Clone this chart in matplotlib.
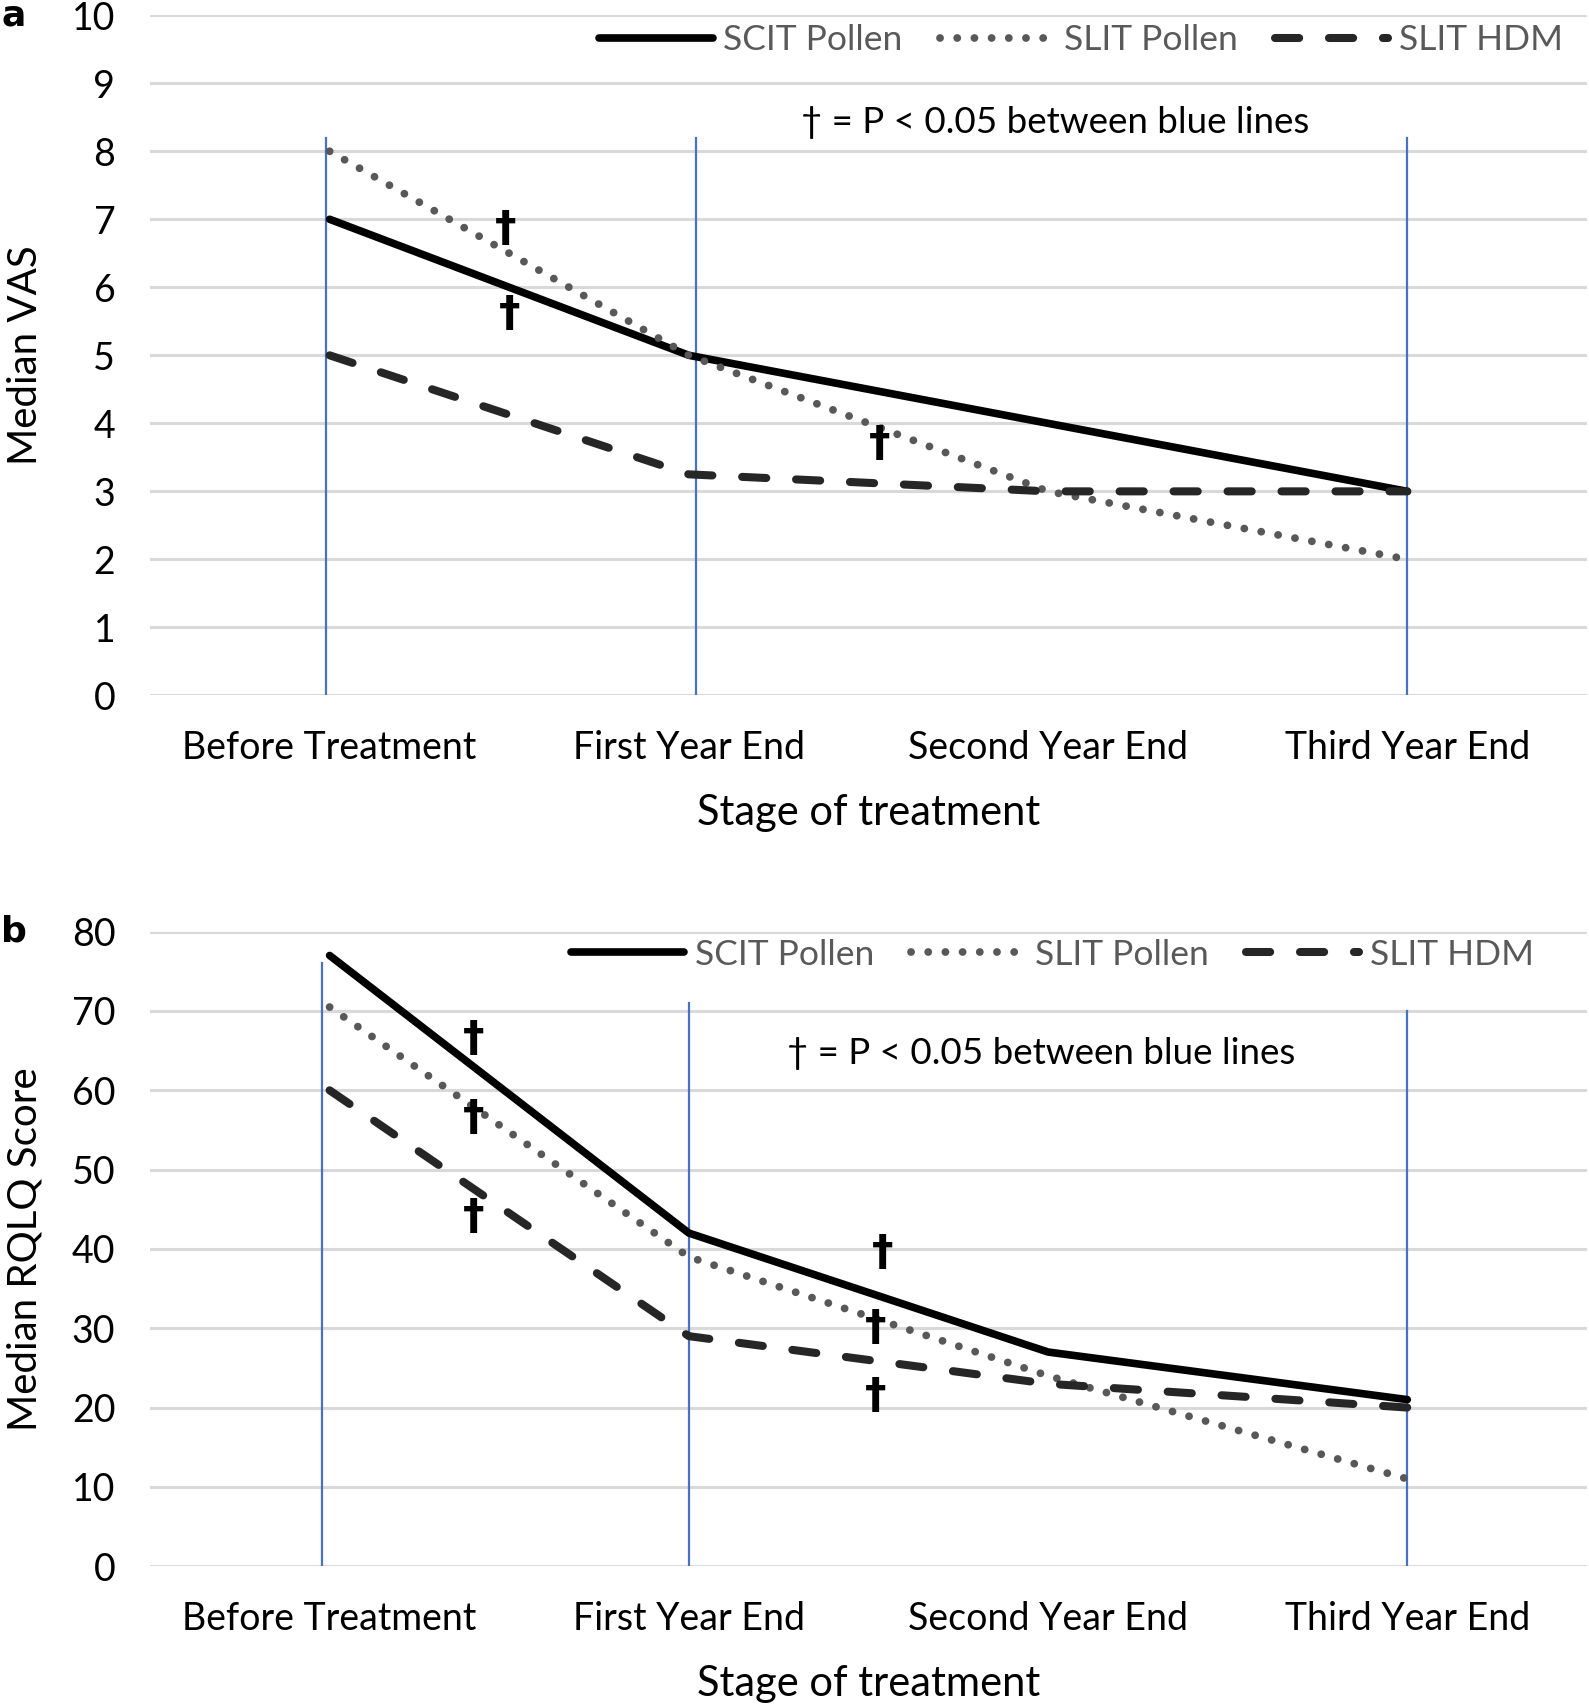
# -*- coding: utf-8 -*-
"""
Median VAS / RQLQ scores by stage of treatment (SCIT vs SLIT)
"""
import matplotlib
matplotlib.use("Agg")
import matplotlib.pyplot as plt

plt.rcParams['font.family'] = ['Lato', 'DejaVu Sans']

# data
stages = ['Before Treatment', 'First Year End', 'Second Year End', 'Third Year End']
series_names = ['SCIT Pollen', 'SLIT Pollen', 'SLIT HDM']

vas_scit = [7, 5, 4, 3]
vas_slit_pollen = [8, 5, 3, 2]
vas_slit_hdm = [5, 3.25, 3, 3]

rqlq_scit = [77, 42, 27, 21]
rqlq_slit_pollen = [70.5, 39, 24, 11]
rqlq_slit_hdm = [60, 29, 23, 20]

# blue reference lines (x position, top value)
vas_blue_x = [-0.01, 1.02, 3.0]
vas_blue_top = [8.2, 8.2, 8.2]
rqlq_blue_x = [-0.02, 1.0, 3.0]
rqlq_blue_top = [76, 71, 70]

# significance markers (x, y)
vas_dagger_x = [0.49, 0.5, 1.53]
vas_dagger_y = [6.85, 5.6, 3.7]
rqlq_dagger_x = [0.4, 0.4, 0.4, 1.54, 1.52, 1.52]
rqlq_dagger_y = [66.5, 56.5, 44, 39.5, 30, 21.5]

NOTE = '\u2020 = P < 0.05 between blue lines'

STYLES = [
    dict(color='black', lw=5.5, ls='-', solid_capstyle='round', solid_joinstyle='round'),
    dict(color='#585858', lw=5.6, ls=(0, (0.01, 2.2)), dash_capstyle='round'),
    dict(color='#262626', lw=5.8, ls=(0, (3.0, 3.7)), dash_capstyle='round'),
]

FS = 27


def draw_panel(ax, ys, blue_x, blue_top, dag_x, dag_y, ymax, step, ylabel,
               note_xy, leg_xy, letter):
    x = range(len(stages))
    ax.set_xlim(-0.5, 3.5)
    ax.set_ylim(0, ymax)
    ax.set_yticks(range(0, ymax + 1, step))
    ax.grid(axis='y', color='#d9d9d9', lw=2.2)
    ax.set_axisbelow(True)
    for s in ax.spines.values():
        s.set_visible(False)
    ax.tick_params(length=0, labelsize=FS, pad=25)
    ax.set_xticks(list(x))
    ax.set_xticklabels(stages)

    for bx, bt in zip(blue_x, blue_top):
        ax.plot([bx, bx], [0, bt], color='#4472c4', lw=1.6, zorder=2)

    handles = []
    for vals, name, st in zip(ys, series_names, STYLES):
        h, = ax.plot(list(x), vals, label=name, zorder=3, **st)
        handles.append(h)

    for dx, dy in zip(dag_x, dag_y):
        ax.text(dx, dy, '\u2020', fontsize=31, fontweight='bold',
                ha='center', va='center', family='DejaVu Sans')

    ax.text(note_xy[0], note_xy[1], NOTE, fontsize=26.5, ha='center', va='center')

    leg = ax.legend(handles=handles, loc='center right', bbox_to_anchor=leg_xy,
                    ncol=3, frameon=False, fontsize=25.5, handlelength=3.2,
                    handletextpad=0.3, columnspacing=1.05, borderaxespad=0)
    for t in leg.get_texts():
        t.set_color('#595959')

    ax.set_ylabel(ylabel, fontsize=29, labelpad=20)
    ax.set_xlabel('Stage of treatment', fontsize=30, labelpad=20)
    ax.text(-0.095, 1.0, letter, transform=ax.transAxes, fontsize=26,
            fontweight='bold', ha='center', va='center', family='DejaVu Sans')


fig = plt.figure(figsize=(15.89, 17.07), dpi=100)
ax1 = fig.add_axes([0.0944, 0.5926, 0.9043, 0.3985])
ax2 = fig.add_axes([0.0944, 0.0825, 0.9043, 0.3717])

draw_panel(ax1, [vas_scit, vas_slit_pollen, vas_slit_hdm], vas_blue_x, vas_blue_top,
           vas_dagger_x, vas_dagger_y, 10, 1, 'Median VAS', (2.02, 8.42), (0.993, 0.963), 'a')
draw_panel(ax2, [rqlq_scit, rqlq_slit_pollen, rqlq_slit_hdm], rqlq_blue_x, rqlq_blue_top,
           rqlq_dagger_x, rqlq_dagger_y, 80, 10, 'Median RQLQ Score', (1.98, 64.6),
           (0.973, 0.964), 'b')

plt.savefig('out.png', dpi=100)
